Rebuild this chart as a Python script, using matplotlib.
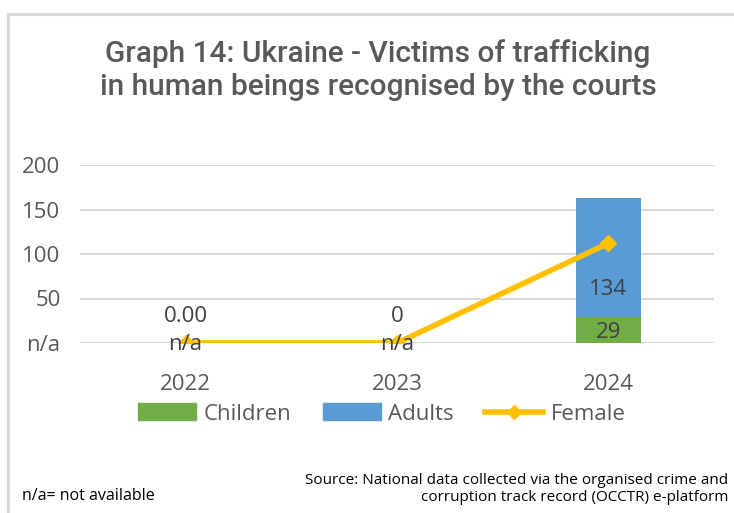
import matplotlib
matplotlib.use("Agg")
import matplotlib.pyplot as plt
from matplotlib.lines import Line2D
from matplotlib.patches import Patch
import numpy as np

# data
years = ["2022", "2023", "2024"]
children = [0, 0, 29]
adults = [0, 0, 134]
female = [0, 0, 112]
top_labels = ["0.00", "0", None]
na_labels = ["n/a", "n/a", None]
yticks = [0, 50, 100, 150, 200]
ytick_labels = ["n/a", "50", "100", "150", "200"]

green = "#70AD47"
blue = "#5B9BD5"
yellow = "#FFC000"
grey_txt = "#595959"
lab_txt = "#404040"
grid_c = "#D9D9D9"

plt.rcParams["font.family"] = ["Open Sans", "DejaVu Sans"]

fig = plt.figure(figsize=(7.34, 5.13), dpi=100)
W, H = 734, 513

# frame of the chart area (light grey border)
fig.add_artist(Line2D([8 / W, 8 / W], [0, 1 - 14 / H], color=grid_c, lw=2.2))
fig.add_artist(Line2D([8 / W, 1], [1 - 14 / H, 1 - 14 / H], color=grid_c, lw=2.2))
# cut-off text of the surrounding document
fig.text(2 / W, 1 + 12 / H, "ion.", fontsize=20, family="Liberation Serif",
         va="baseline", ha="left", color="black")

ax = fig.add_axes([80 / W, 1 - 343 / H, 634 / W, 178 / H])
x = np.arange(len(years))
ch = np.array(children)
ad = np.array(adults)
ax.bar(x, ch, width=0.31, color=green, zorder=3)
ax.bar(x, ad, width=0.31, bottom=ch, color=blue, zorder=3)
ax.plot(x, female, color=yellow, lw=4, marker="D", ms=8, zorder=4,
        solid_capstyle="round")

ax.set_xlim(-0.5, 2.5)
ax.set_ylim(0, 200)
ax.set_yticks(yticks)
ax.set_yticklabels(ytick_labels)
ax.set_xticks(x)
ax.set_xticklabels(years)
ax.tick_params(length=0, labelsize=16, colors=grey_txt)
ax.tick_params(axis="y", pad=14)
ax.tick_params(axis="x", pad=22)
for s in ax.spines.values():
    s.set_visible(False)
ax.yaxis.grid(True, color=grid_c, lw=1.5, zorder=0)
ax.set_axisbelow(True)
ax.patch.set_alpha(0)

# data labels
for i in range(len(years)):
    if top_labels[i]:
        ax.text(x[i], 30, top_labels[i], ha="center", va="center",
                fontsize=16, color=lab_txt, zorder=5)
    if na_labels[i]:
        ax.text(x[i], -2, na_labels[i], ha="center", va="center",
                fontsize=16, color=lab_txt, zorder=5, clip_on=False)
ax.text(x[2], 60, str(adults[2]), ha="center", va="center", fontsize=16,
        color=lab_txt, zorder=5)
ax.text(x[2], 12, str(children[2]), ha="center", va="center", fontsize=16,
        color=lab_txt, zorder=5)

fig.text(378 / W, 1 - 70 / H,
         "Graph 14: Ukraine - Victims of trafficking\nin human beings recognised by the courts",
         ha="center", va="center", fontsize=21.5, family="Roboto",
         weight="medium", color=grey_txt, linespacing=1.2)

handles = [Patch(color=green, label="Children"),
           Patch(color=blue, label="Adults"),
           Line2D([], [], color=yellow, lw=4, marker="D", ms=7, label="Female")]
fig.legend(handles=handles, loc="center", bbox_to_anchor=(382 / W, 1 - 414 / H),
           ncol=3, frameon=False, fontsize=16, labelcolor=grey_txt,
           handlelength=2.6, handleheight=0.8, columnspacing=1.4, handletextpad=0.35)

fig.text(728 / W, 1 - 489 / H,
         "Source: National data collected via the organised crime and\n"
         "corruption track record (OCCTR) e-platform",
         ha="right", va="center", fontsize=11, color="black", linespacing=1.25)
fig.text(22 / W, 1 - 496 / H, "n/a= not available", ha="left", va="center",
         fontsize=11.5, color="black")

fig.savefig("out.png", dpi=100)
